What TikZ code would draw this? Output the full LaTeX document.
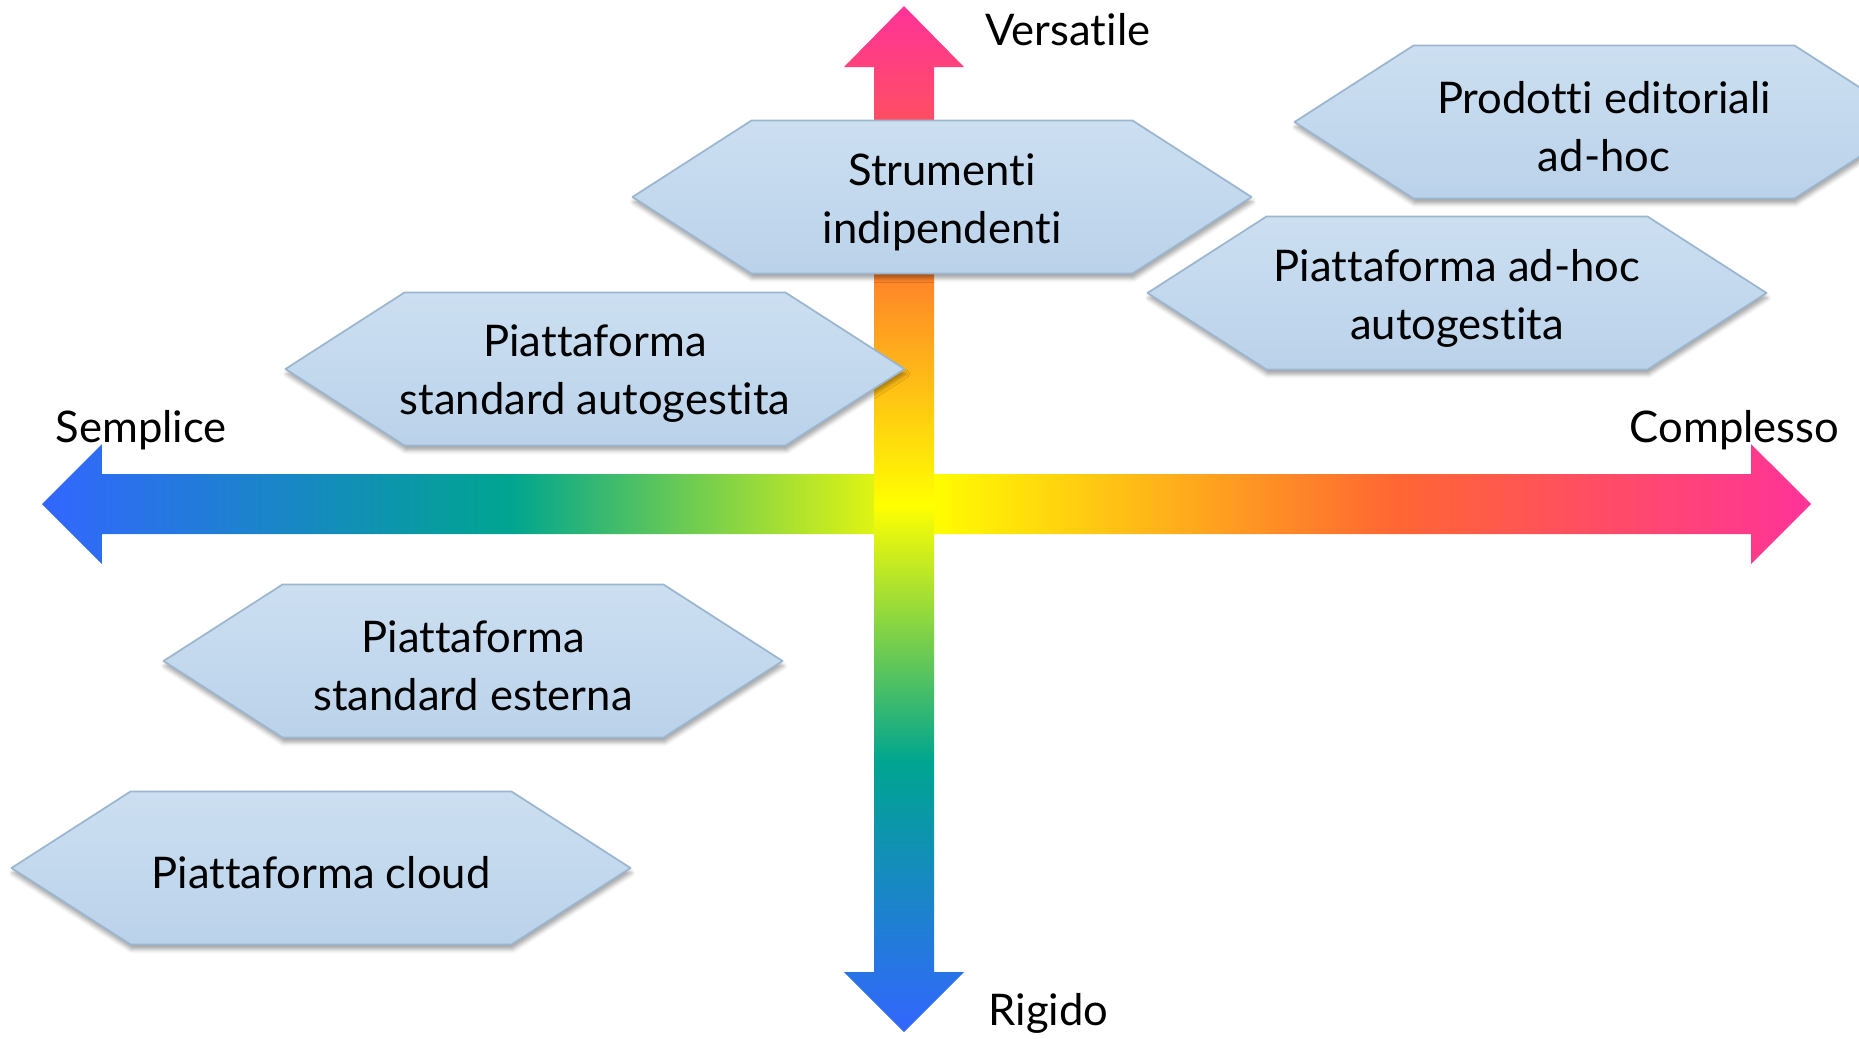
\documentclass[tikz,border=0pt]{standalone}
\usepackage{fontspec}
\setmainfont{Lato}[Ligatures=NoCommon]
\usetikzlibrary{shadows.blur}
\definecolor{rbBlue}{HTML}{3366FF}
\definecolor{rbTeal}{HTML}{00A590}
\definecolor{rbYellow}{HTML}{FFFF00}
\definecolor{rbRed}{HTML}{FF6633}
\definecolor{rbPink}{HTML}{FF3399}
\definecolor{hexLight}{HTML}{CCDFF1}
\definecolor{hexFill}{HTML}{BAD2EA}
\definecolor{hexLine}{HTML}{9CB6D0}
% sfumature degli assi (la parte 25bp--75bp copre il percorso)
\pgfdeclarehorizontalshading{rainbowx}{100bp}{color(0bp)=(rbBlue); color(25bp)=(rbBlue); color(38.25bp)=(rbTeal); color(50bp)=(rbYellow); color(63.25bp)=(rbRed); color(75bp)=(rbPink); color(100bp)=(rbPink)}
\pgfdeclareverticalshading{rainbowy}{100bp}{color(0bp)=(rbBlue); color(25bp)=(rbBlue); color(38.2bp)=(rbTeal); color(50.7bp)=(rbYellow); color(64.5bp)=(rbRed); color(75bp)=(rbPink); color(100bp)=(rbPink)}
\begin{document}
\begin{tikzpicture}[line join=round,font=\fontsize{12.4}{16.5}\selectfont,
    hexa/.style={draw=hexLine,line width=0.5pt,top color=hexLight,bottom color=hexFill,
        blur shadow={shadow xshift=0.01cm,shadow yshift=-0.05cm,shadow blur radius=0.04cm,shadow opacity=35}},
    axislabel/.style={inner sep=0pt}]
    \useasboundingbox (-9.04,-5.34) rectangle (9.55,5.04);
    % assi
    \shade[shading=rainbowx] (-8.62,0)--(-8.02,0.6)--(-8.02,0.3)--(8.47,0.3)--(8.47,0.6)--(9.07,0)
        --(8.47,-0.6)--(8.47,-0.3)--(-8.02,-0.3)--(-8.02,-0.6)--cycle;
    \shade[shading=rainbowy] (0,4.98)--(0.6,4.37)--(0.3,4.37)--(0.3,-4.68)--(0.6,-4.68)--(0,-5.28)
        --(-0.6,-4.68)--(-0.3,-4.68)--(-0.3,4.37)--(-0.6,4.37)--cycle;
    \node[axislabel,anchor=base west] (versatile) at (0.81,4.59) {Versatile};
    \node[axislabel,anchor=base west] (rigido) at (0.84,-5.21) {Rigido};
    \node[axislabel,anchor=base west] (semplice) at (-8.49,0.62) {Semplice};
    \node[axislabel,anchor=base east] (complesso) at (9.36,0.62) {Complesso};
    % esagoni
    \foreach \n/\x/\y/\t in {strumenti/0.38/3.07/{Strumenti\\indipendenti},
        prodotti/7.00/3.82/{Prodotti editoriali\\ad-hoc},
        adhoc/5.53/2.11/{Piattaforma ad-hoc\\autogestita},
        autogestita/-3.09/1.35/{Piattaforma\\standard autogestita},
        esterna/-4.31/-1.57/{Piattaforma\\standard esterna},
        cloud/-5.83/-3.64/{Piattaforma cloud}}
    {
        \draw[hexa] (\x-3.095,\y)--++(1.19,0.765)--++(3.81,0)--++(1.19,-0.765)--++(-1.19,-0.765)--++(-3.81,0)--cycle;
        \node[align=center] (\n) at (\x,\y-0.05) {\t};
    }
\end{tikzpicture}
\end{document}
